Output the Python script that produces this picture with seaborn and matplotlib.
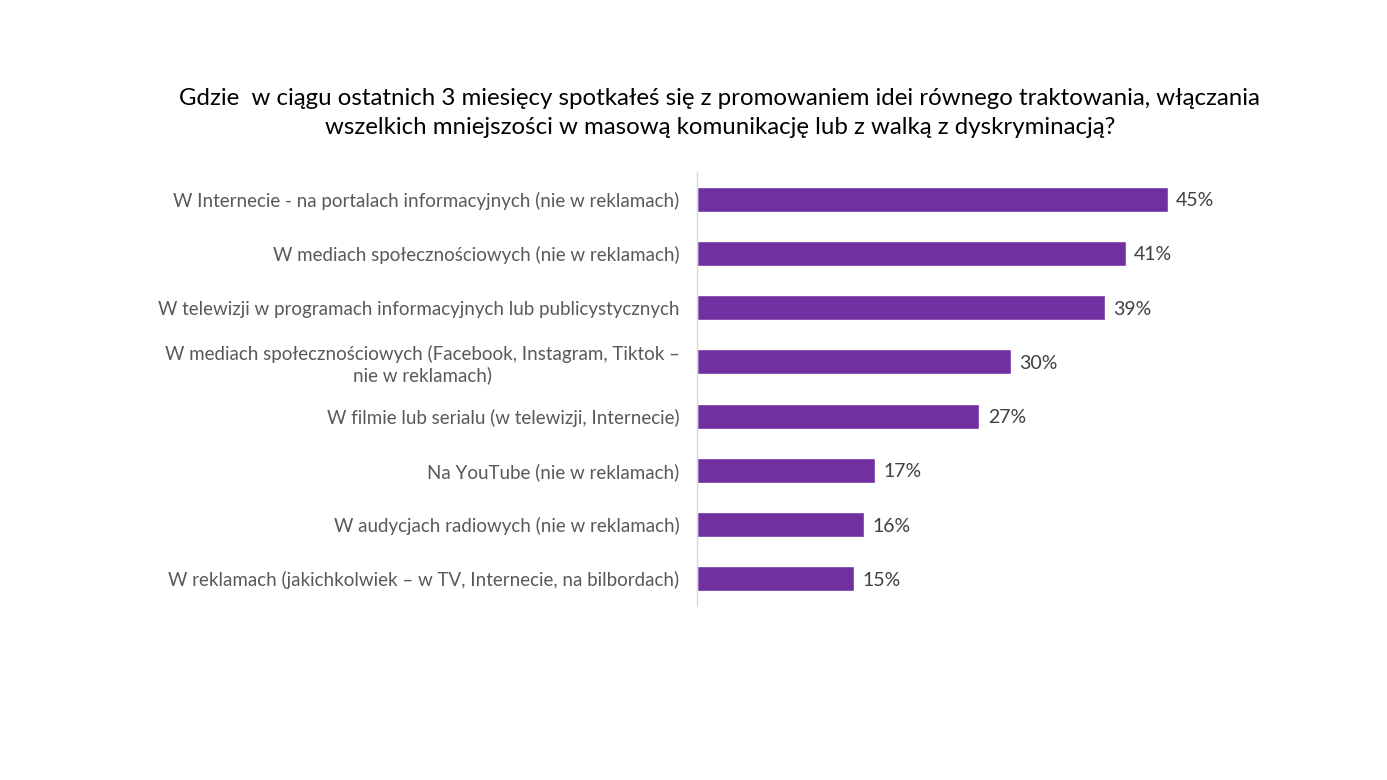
import matplotlib
matplotlib.use("Agg")
import matplotlib.pyplot as plt
import seaborn as sns
import pandas as pd

categories = [
    "W Internecie - na portalach informacyjnych (nie w reklamach)",
    "W mediach społecznościowych (nie w reklamach)",
    "W telewizji w programach informacyjnych lub publicystycznych",
    "W mediach społecznościowych (Facebook, Instagram, Tiktok –\nnie w reklamach)",
    "W filmie lub serialu (w telewizji, Internecie)",
    "Na YouTube (nie w reklamach)",
    "W audycjach radiowych (nie w reklamach)",
    "W reklamach (jakichkolwiek – w TV, Internecie, na bilbordach)",
]
values = [45, 41, 39, 30, 27, 17, 16, 15]
value_labels = ["45%", "41%", "39%", "30%", "27%", "17%", "16%", "15%"]
title = ("Gdzie  w ciągu ostatnich 3 miesięcy spotkałeś się z promowaniem idei równego traktowania, włączania\n"
         "wszelkich mniejszości w masową komunikację lub z walką z dyskryminacją?")

sns.set_theme(style="white")
plt.rcParams['font.family'] = ['Lato', 'DejaVu Sans']

df = pd.DataFrame({"cat": categories, "val": values})

fig = plt.figure(figsize=(13.87, 7.8), dpi=100)
ax = fig.add_axes([0.5025, 0.223, 0.377, 0.5565])
sns.barplot(data=df, y="cat", x="val", color="#7030A0", saturation=1, width=0.46, ax=ax)
ax.set_xlim(0, 50)
ax.set_xlabel("")
ax.set_ylabel("")
ax.set_xticks([])
for s in ["top", "right", "bottom"]:
    ax.spines[s].set_visible(False)
ax.spines["left"].set_color("#D9D9D9")
ax.spines["left"].set_linewidth(1)
ax.tick_params(axis="y", length=0, pad=12.5, labelsize=13.5, labelcolor="#595959")
for lab in ax.get_yticklabels():
    lab.set_multialignment("center")
for i, (v, t) in enumerate(zip(values, value_labels)):
    ax.text(v + 0.8, i, t, va="center_baseline", ha="left", fontsize=14, color="#404040")

fig.text(0.519, 0.855, title, ha="center", va="center", fontsize=17.3, color="black", linespacing=1.5)

fig.savefig("out.png", dpi=100, facecolor="white")
